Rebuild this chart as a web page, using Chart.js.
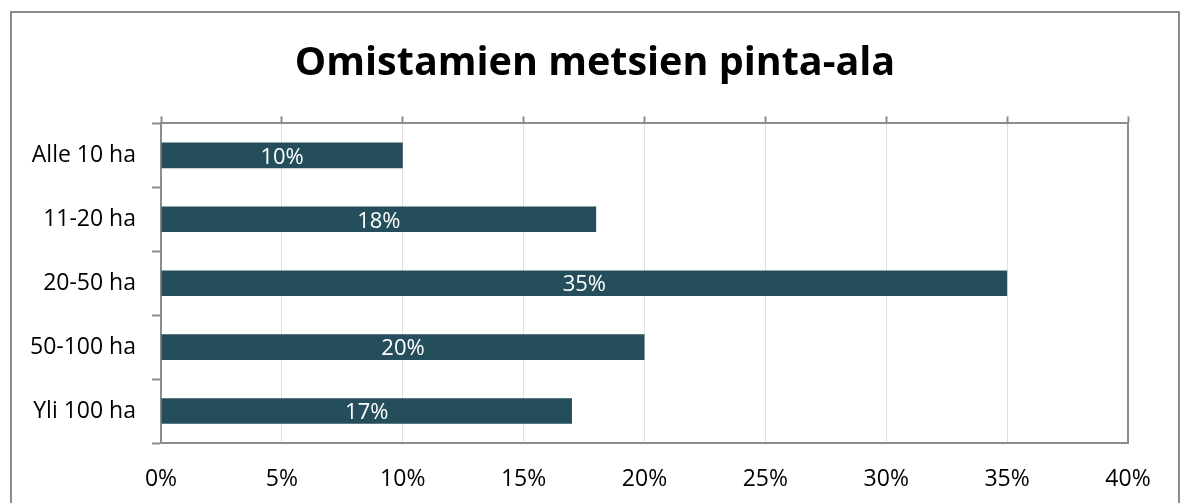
<!DOCTYPE html>
<html>
<head>
<meta charset="utf-8">
<script src="https://cdn.jsdelivr.net/npm/chart.js@4.4.1/dist/chart.umd.min.js"></script>
<style>
  html, body { margin: 0; padding: 0; background: #fff; }
  #frame {
    position: absolute; left: 10px; top: 11px;
    width: 1166px; height: 500px;
    border: 2px solid #8c8c8c;
  }
  #wrap { position: absolute; left: 0; top: 0; width: 1183px; height: 503px; }
</style>
</head>
<body>
<div id="frame"></div>
<div id="wrap"><canvas id="chart"></canvas></div>
<script>
// ----- Data -----
const categories = ['Alle 10 ha', '11-20 ha', '20-50 ha', '50-100 ha', 'Yli 100 ha'];
const shares = [10, 18, 35, 20, 17];
const xTicks = [0, 5, 10, 15, 20, 25, 30, 35, 40];

const FONT = "'Open Sans', 'Noto Sans', sans-serif";
const BAR = '#244e5b';
const AXIS = '#8c8c8c';

// white value labels centred on each bar
const barLabels = {
  id: 'barLabels',
  afterDatasetsDraw(chart) {
    const ctx = chart.ctx;
    const meta = chart.getDatasetMeta(0);
    ctx.save();
    ctx.fillStyle = '#ffffff';
    ctx.font = '22px ' + FONT;
    ctx.textAlign = 'center';
    ctx.textBaseline = 'middle';
    meta.data.forEach((bar, i) => {
      const x = (bar.x + bar.base) / 2;
      ctx.fillText(shares[i] + '%', x, bar.y + 2);
    });
    ctx.restore();
  },
};

new Chart(document.getElementById('chart'), {
  type: 'bar',
  data: {
    labels: categories,
    datasets: [{
      data: shares,
      backgroundColor: BAR,
      borderWidth: 0,
      categoryPercentage: 1,
      barPercentage: 0.4,
    }],
  },
  plugins: [barLabels],
  options: {
    indexAxis: 'y',
    responsive: true,
    maintainAspectRatio: false,
    animation: false,
    layout: { padding: { left: 22, right: 15, top: 40, bottom: 0 } },
    scales: {
      x: {
        min: 0, max: 40,
        afterBuildTicks: s => { s.ticks = xTicks.map(v => ({ value: v })); },
        afterFit: s => { s.height = 60; },
        ticks: { color: '#000', font: { size: 23, family: FONT }, padding: 23, callback: v => v + '%' },
        grid: { color: '#e0e0e0', drawTicks: false },
        border: { color: AXIS, width: 2 },
      },
      x2: {
        position: 'top',
        min: 0, max: 40,
        afterBuildTicks: s => { s.ticks = xTicks.map(v => ({ value: v })); },
        afterFit: s => { s.height = 10; },
        ticks: { display: false },
        grid: { drawOnChartArea: false, drawTicks: true, tickLength: 7, color: AXIS, tickColor: AXIS, tickWidth: 2 },
        border: { color: AXIS, width: 2 },
      },
      y: {
        offset: true,
        afterFit: s => { s.width = 139; },
        ticks: { color: '#000', font: { size: 23, family: FONT }, padding: 16 },
        grid: { offset: true, drawOnChartArea: false, tickLength: 9, color: AXIS, tickWidth: 2 },
        border: { color: AXIS, width: 2 },
      },
      y2: {
        type: 'category',
        position: 'right',
        offset: true,
        afterFit: s => { s.width = 40; },
        ticks: { display: false },
        grid: { drawOnChartArea: false, drawTicks: false },
        border: { color: AXIS, width: 2 },
      },
    },
    plugins: {
      legend: { display: false },
      tooltip: { enabled: false },
      title: {
        display: true,
        text: 'Omistamien metsien pinta-ala',
        color: '#000',
        font: { size: 39.5, weight: 'bold', family: FONT },
        padding: { top: 0, bottom: 26 },
      },
    },
  },
});
</script>
</body>
</html>
